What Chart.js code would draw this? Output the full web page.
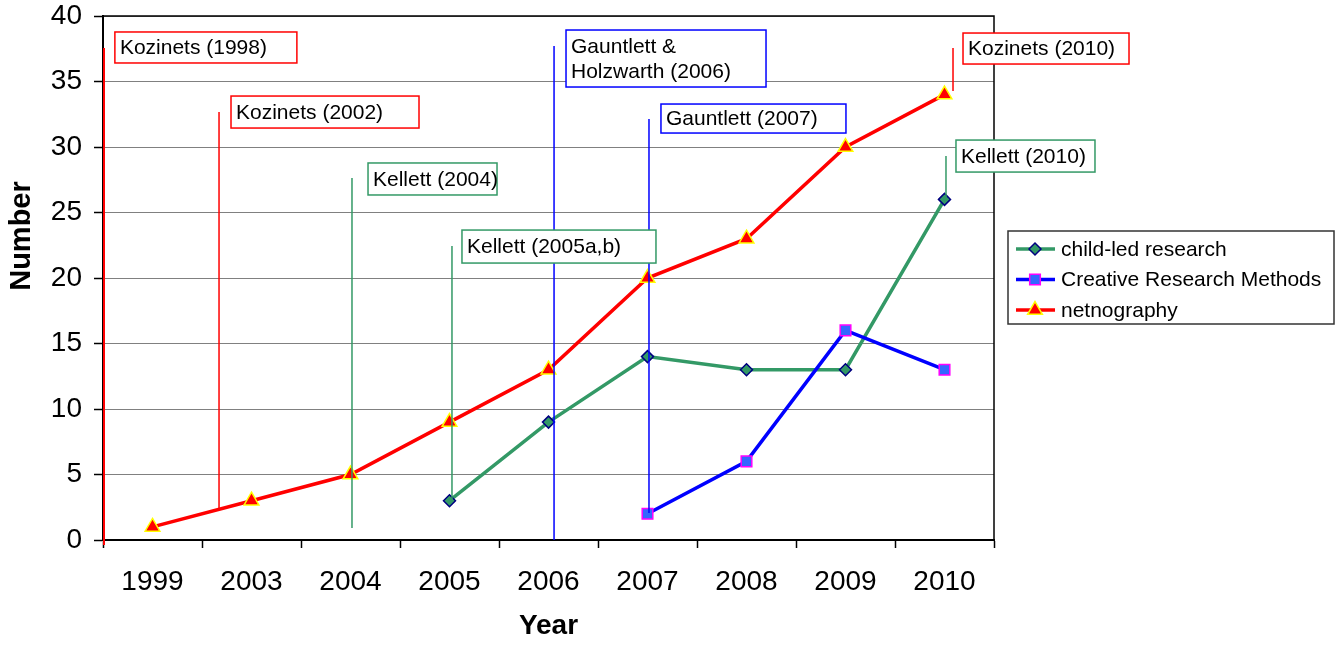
<!DOCTYPE html>
<html>
<head>
<meta charset="utf-8">
<script src="https://cdn.jsdelivr.net/npm/chart.js@4.4.1/dist/chart.umd.min.js"></script>
<style>
  html, body { margin: 0; padding: 0; background: #ffffff; }
  #wrap { width: 1339px; height: 645px; }
</style>
</head>
<body>
<div id="wrap"><canvas id="c" width="1339" height="645"></canvas></div>
<script>
// Publication counts per year
const years = ['1999', '2003', '2004', '2005', '2006', '2007', '2008', '2009', '2010'];
const childLed = [null, null, null, 3, 9, 14, 13, 13, 26];
const creativeMethods = [null, null, null, null, null, 2, 6, 16, 13];
const netnography = [1, 3, 5, 9, 13, 20, 23, 30, 34];
const yTicks = [0, 5, 10, 15, 20, 25, 30, 35, 40];

const FONT = "'Liberation Sans', Arial, Helvetica, sans-serif";

// Key-author callouts: leader line (lx, ly1..ly2) and box anchor (bx, by) in axis units
const callouts = [
  { text: ['Kozinets (1998)'], color: '#FF0000', lw: 2, lx: -0.49, ly1: 37.56, ly2: -0.38, bx: -0.38, by: 38.78, bw: 182, bh: 31 },
  { text: ['Kozinets (2002)'], color: '#FF0000', lw: 1.5, lx: 0.672, ly1: 32.67, ly2: 2.44, bx: 0.793, by: 33.89, bw: 188, bh: 32 },
  { text: ['Kellett (2004)'], color: '#339966', lw: 1.5, lx: 2.015, ly1: 27.63, ly2: 0.92, bx: 2.177, by: 28.78, bw: 129, bh: 32 },
  { text: ['Gauntlett &', 'Holzwarth (2006)'], color: '#0000FF', lw: 1.5, lx: 4.056, ly1: 37.71, ly2: 0, bx: 4.177, by: 38.93, bw: 200, bh: 57 },
  { text: ['Gauntlett (2007)'], color: '#0000FF', lw: 1.5, lx: 5.015, ly1: 32.14, ly2: 2.06, bx: 5.136, by: 33.28, bw: 185, bh: 29 },
  { text: ['Kellett (2005a,b)'], color: '#339966', lw: 1.5, lx: 3.025, ly1: 22.44, ly2: 3.05, bx: 3.126, by: 23.66, bw: 194, bh: 33 },
  { text: ['Kozinets (2010)'], color: '#FF0000', lw: 1.5, lx: 8.086, ly1: 37.56, ly2: 34.27, bx: 8.187, by: 38.70, bw: 166, bh: 31 },
  { text: ['Kellett (2010)'], color: '#339966', lw: 1.5, lx: 8.015, ly1: 29.31, ly2: 26.0, bx: 8.116, by: 30.53, bw: 139, bh: 32 }
];

// Black frame around the plot area, drawn over the gridlines
const plotFrame = {
  id: 'plotFrame',
  beforeDatasetsDraw(chart) {
    const { ctx, chartArea: a } = chart;
    ctx.save();
    ctx.strokeStyle = '#000000';
    ctx.lineWidth = 1.5;
    ctx.strokeRect(a.left, a.top, a.right - a.left, a.bottom - a.top);
    ctx.restore();
  }
};

// Callout boxes with leader lines
const calloutPlugin = {
  id: 'callouts',
  afterDatasetsDraw(chart) {
    const { ctx, scales } = chart;
    const xs = scales.x, ys = scales.y;
    const step = xs.getPixelForValue(1) - xs.getPixelForValue(0);
    const px = v => xs.getPixelForValue(0) + v * step;
    const py = v => ys.getPixelForValue(v);
    ctx.save();
    callouts.forEach(c => {
      ctx.strokeStyle = c.color;
      ctx.lineWidth = c.lw;
      ctx.beginPath();
      ctx.moveTo(px(c.lx), py(c.ly1));
      ctx.lineTo(px(c.lx), py(c.ly2));
      ctx.stroke();
    });
    callouts.forEach(c => {
      const x = px(c.bx), y = py(c.by);
      ctx.fillStyle = '#ffffff';
      ctx.fillRect(x, y, c.bw, c.bh);
      ctx.strokeStyle = c.color;
      ctx.lineWidth = 1.5;
      ctx.strokeRect(x, y, c.bw, c.bh);
      ctx.fillStyle = '#000000';
      ctx.font = '21px ' + FONT;
      ctx.textAlign = 'left';
      ctx.textBaseline = 'middle';
      const lh = 25;
      const cy = y + c.bh / 2 - (c.text.length - 1) * lh / 2;
      c.text.forEach((t, i) => ctx.fillText(t, x + 5, cy + i * lh + 1));
    });
    ctx.restore();
  }
};

// Legend box: line sample with marker, then series name
const legendBox = {
  id: 'legendBox',
  afterDraw(chart) {
    const { ctx, chartArea: a } = chart;
    const left = a.right + 14, top = 231, w = 326, h = 93;
    ctx.save();
    ctx.fillStyle = '#ffffff';
    ctx.fillRect(left, top, w, h);
    ctx.strokeStyle = '#333333';
    ctx.lineWidth = 1.5;
    ctx.strokeRect(left, top, w, h);
    chart.data.datasets.forEach((ds, i) => {
      const y = top + 18 + i * 30.5;
      ctx.strokeStyle = ds.borderColor;
      ctx.lineWidth = ds.borderWidth;
      ctx.beginPath();
      ctx.moveTo(left + 8, y);
      ctx.lineTo(left + 47, y);
      ctx.stroke();
      ctx.fillStyle = ds.pointBackgroundColor;
      ctx.strokeStyle = ds.pointBorderColor;
      ctx.lineWidth = ds.pointBorderWidth;
      Chart.helpers.drawPoint(ctx, {
        pointStyle: ds.pointStyle, radius: ds.pointRadius, borderWidth: ds.pointBorderWidth, rotation: 0
      }, left + 27, y);
      ctx.fillStyle = '#000000';
      ctx.font = '21px ' + FONT;
      ctx.textAlign = 'left';
      ctx.textBaseline = 'middle';
      ctx.fillText(ds.label, left + 53, y + 1);
    });
    ctx.restore();
  }
};

// Rotated y-axis title
const yTitle = {
  id: 'yTitle',
  afterDraw(chart) {
    const { ctx } = chart;
    ctx.save();
    ctx.translate(22, 236);
    ctx.rotate(-Math.PI / 2);
    ctx.fillStyle = '#000000';
    ctx.font = 'bold 29px ' + FONT;
    ctx.textAlign = 'center';
    ctx.textBaseline = 'middle';
    ctx.fillText('Number', 0, 0);
    ctx.restore();
  }
};

new Chart(document.getElementById('c'), {
  type: 'line',
  data: {
    labels: years,
    datasets: [
      {
        label: 'child-led research',
        data: childLed,
        order: 3,
        borderColor: '#339966',
        borderWidth: 3.5,
        pointStyle: 'rectRot',
        pointRadius: 6,
        pointBackgroundColor: '#339966',
        pointBorderColor: '#000080',
        pointBorderWidth: 1.5,
        tension: 0
      },
      {
        label: 'Creative Research Methods',
        data: creativeMethods,
        order: 2,
        borderColor: '#0000FF',
        borderWidth: 3.5,
        pointStyle: 'rect',
        pointRadius: 7.5,
        pointBackgroundColor: '#3366FF',
        pointBorderColor: '#FF00FF',
        pointBorderWidth: 1.5,
        tension: 0
      },
      {
        label: 'netnography',
        data: netnography,
        order: 1,
        borderColor: '#FF0000',
        borderWidth: 3.5,
        pointStyle: 'triangle',
        pointRadius: 8.5,
        pointBackgroundColor: '#FF0000',
        pointBorderColor: '#FFFF00',
        pointBorderWidth: 1.5,
        tension: 0
      }
    ]
  },
  options: {
    responsive: false,
    animation: false,
    devicePixelRatio: 1,
    layout: { padding: { left: 0, top: 16, right: 345, bottom: 0 } },
    plugins: {
      legend: { display: false },
      tooltip: { enabled: false }
    },
    scales: {
      x: {
        type: 'category',
        offset: true,
        grid: { offset: true, drawOnChartArea: false, drawTicks: true, tickLength: 8, tickColor: '#000000', tickWidth: 1.5 },
        border: { color: '#000000', width: 2 },
        ticks: { font: { family: FONT, size: 28 }, color: '#000000', padding: 17, maxRotation: 0, autoSkip: false },
        title: {
          display: true, text: 'Year', color: '#000000',
          font: { family: FONT, size: 28, weight: 'bold', lineHeight: 1 },
          padding: { top: 0, bottom: 5 }
        },
        afterFit(s) { s.height = 105; s.paddingLeft = 0; s.paddingRight = 0; }
      },
      y: {
        min: 0,
        max: 40,
        afterBuildTicks(s) { s.ticks = yTicks.map(v => ({ value: v })); },
        grid: { color: '#808080', lineWidth: 1, tickColor: '#000000', tickLength: 9, tickWidth: 1.5 },
        border: { color: '#000000', width: 2 },
        ticks: { font: { family: FONT, size: 28 }, color: '#000000', padding: 12 },
        afterFit(s) { s.width = 103; s.paddingTop = 0; s.paddingBottom = 0; }
      }
    }
  },
  plugins: [plotFrame, calloutPlugin, legendBox, yTitle]
});
</script>
</body>
</html>
